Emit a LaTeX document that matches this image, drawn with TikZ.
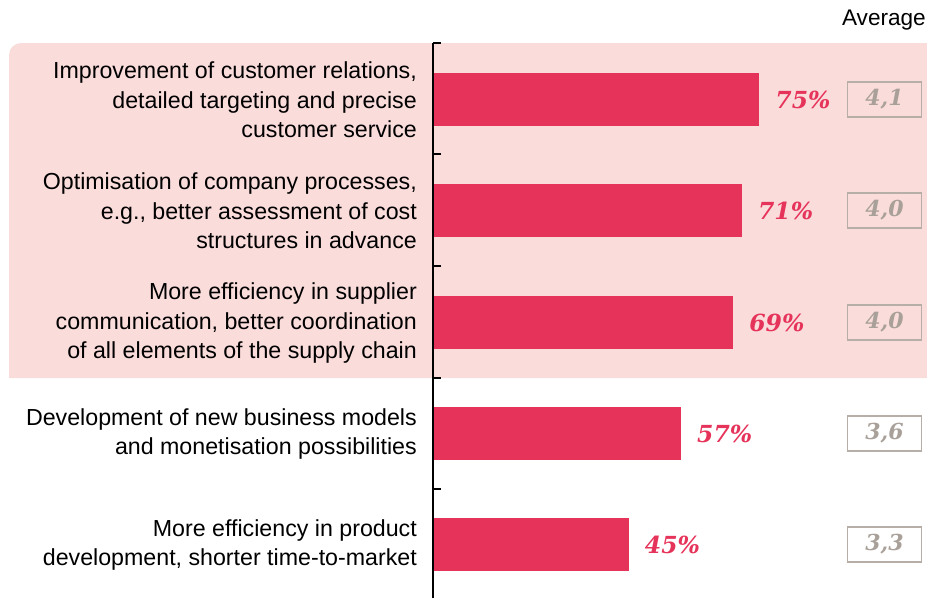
\documentclass[tikz,border=0pt]{standalone}
\usepackage{fontspec}
\setmainfont{Liberation Sans}
\newfontfamily\numfont{DejaVu Serif}
\definecolor{barred}{HTML}{E6335A}
\definecolor{bgpink}{HTML}{FADCDB}
\definecolor{avggrey}{HTML}{B7AFA7}
\definecolor{avgtext}{HTML}{A9A199}
\begin{document}
\begin{tikzpicture}[x=1pt,y=-1pt,
  lbl/.style={anchor=east, align=right, inner sep=0pt, font=\fontsize{23.2}{29.5}\selectfont},
  pct/.style={anchor=west, inner sep=0pt, text=barred, font=\numfont\bfseries\itshape\fontsize{23.5}{23.5}\selectfont},
  avgbox/.style={draw=avggrey, line width=1.5pt, minimum width=74pt, minimum height=35pt, inner sep=0pt, text=avgtext, font=\numfont\bfseries\itshape\fontsize{22}{22}\selectfont},
  barbox/.style={fill=barred},
  axisline/.style={line width=1.5pt, black}]
\useasboundingbox (0,0) rectangle (927,598);
% highlighted background
\fill[bgpink] (927,43) -- (21,43) .. controls (14.4,43) and (9,48.4) .. (9,55) -- (9,378) -- (927,378) -- cycle;
% header
\node[anchor=east, inner sep=0pt, font=\fontsize{22.6}{24}\selectfont] (avghead) at (926,20) {Average};
% bars
\foreach \i/\c/\p/\a/\t in {
  1/99.5/75/{4,1}/{Improvement of customer relations,\\detailed targeting and precise\\customer service},
  2/210.5/71/{4,0}/{Optimisation of company processes,\\e.g., better assessment of cost\\structures in advance},
  3/322.5/69/{4,0}/{More efficiency in supplier\\communication, better coordination\\of all elements of the supply chain},
  4/433.5/57/{3,6}/{Development of new business models\\and monetisation possibilities},
  5/544.5/45/{3,3}/{More efficiency in product\\development, shorter time-to-market}} {
  \pgfmathsetmacro{\xe}{433+4.35*\p}
  \fill[barbox] (433,\c-26.5) rectangle (\xe,\c+26.5);
  \coordinate (bend\i) at (\xe,\c);
  \node[pct] (pct\i) at ([xshift=16pt]bend\i) {\p\%};
  \node[lbl] (lab\i) at (417,\c+0.5) {\t};
  \node[avgbox] (avg\i) at (884.5,\c) {\a};
}
% axis
\coordinate (axtop) at (433,43);
\coordinate (axbot) at (433,598);
\draw[axisline] (axtop) -- (axbot);
\foreach \y [count=\k] in {43,154,266,378,489} {
  \coordinate (tk\k) at (433,\y);
  \draw[axisline] (tk\k) -- ++(8,0);
}
\end{tikzpicture}
\end{document}
